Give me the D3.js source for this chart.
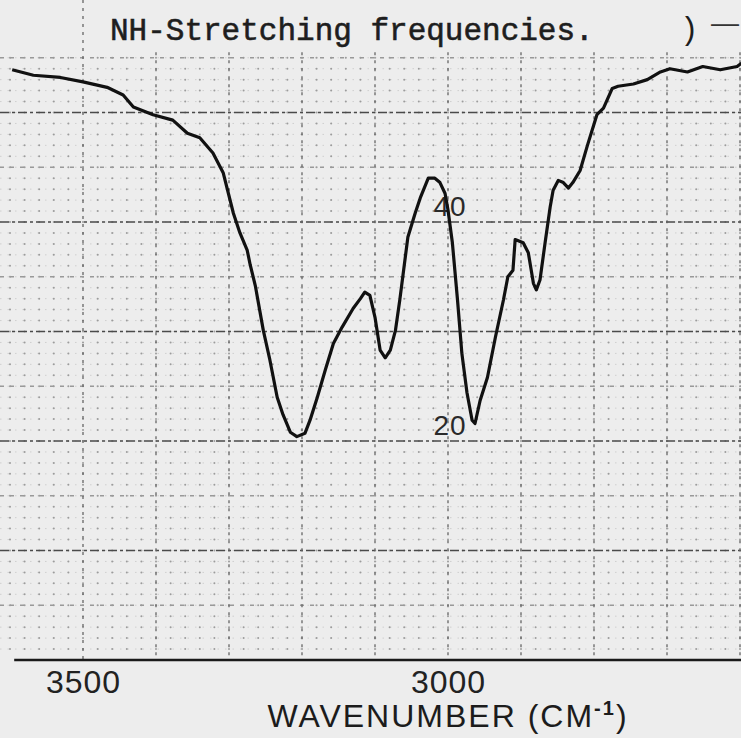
<!DOCTYPE html>
<html>
<head>
<meta charset="utf-8">
<script src="https://cdn.jsdelivr.net/npm/d3@7"></script>
<style>
    html, body { margin: 0; padding: 0; background: #ededed; }
    svg { display: block; }
</style>
</head>
<body>
<div id="chart"></div>
<script>
// Trace: wavenumber (cm-1) and transmittance (%)
const wavenumbers = [
    3597, 3568, 3531, 3500, 3467, 3445, 3431, 3404, 3377, 3357, 3340, 3322, 3308,
    3294, 3285, 3275, 3271, 3264, 3253, 3244, 3234, 3226, 3216, 3207, 3196, 3189,
    3179, 3168, 3157, 3145, 3130, 3120, 3114, 3107, 3100, 3093, 3086, 3079, 3072,
    3066, 3055, 3045, 3038, 3027, 3018, 3011, 3004, 3000, 2994, 2987, 2981, 2974,
    2967, 2963, 2956, 2946, 2935, 2924, 2918, 2911, 2908, 2897, 2890, 2883, 2879,
    2874, 2867, 2860, 2856, 2849, 2842, 2835, 2829, 2819, 2809, 2796, 2787, 2775,
    2767, 2746, 2727, 2709, 2696, 2672, 2651, 2627, 2604, 2598
];
const transmittance = [
    53.9, 53.4, 53.2, 52.8, 52.3, 51.6, 50.5, 49.8, 49.3, 48.1, 47.7, 46.3, 44.5,
    40.8, 39.0, 37.4, 36.1, 34.2, 30.1, 27.4, 24.0, 22.4, 20.8, 20.4, 20.7, 21.9,
    24.0, 26.5, 28.9, 30.4, 32.1, 33.0, 33.6, 33.3, 31.3, 28.3, 27.6, 28.3, 30.1,
    32.9, 38.6, 40.8, 42.2, 44.0, 44.0, 43.6, 42.6, 41.1, 38.1, 32.9, 28.0, 24.4,
    21.9, 21.6, 23.7, 25.8, 29.5, 32.9, 35.0, 35.6, 38.4, 38.1, 37.2, 34.4, 33.8,
    34.7, 38.1, 41.4, 42.9, 43.8, 43.6, 43.1, 43.6, 44.7, 47.0, 49.8, 50.4, 52.2,
    52.4, 52.6, 53.0, 53.7, 54.0, 53.7, 54.2, 53.9, 54.2, 54.5
];

const xTickValues = [3500, 3000];
const yLabelValues = [40, 20];
const majorWaves = [3500, 3400, 3300, 3200, 3100, 3000, 2900, 2800, 2700, 2600];
const halfPercents = [5, 15, 25, 35, 45, 55];
const tenPercents = [10, 20, 30, 40, 50];

const title = "NH-Stretching frequencies.";
const xTitle = "WAVENUMBER (CM";

const width = 741;
const height = 738;

const data = wavenumbers.map((w, i) => ({ w: w, t: transmittance[i] }));

// chart paper scale, 100 cm-1 per major division, 10 % per major row
const x = d3.scaleLinear().domain([3500, 3000]).range([83, 448]);
const y = d3.scaleLinear().domain([40, 20]).range([222, 441]);

const svg = d3.select("#chart").append("svg")
    .attr("width", width)
    .attr("height", height)
    .style("background-color", "#ededed");

const grid = svg.append("g");

// minor dotted grid: every 20 cm-1 and every 1 %
const minorWaves = d3.range(3620, 2580, -20);
const minorPercents = d3.range(1, 56, 1);
const gridTop = y(55.5);

grid.selectAll(".minor-h")
    .data(minorPercents)
    .enter().append("line")
    .attr("x1", 0).attr("x2", width)
    .attr("y1", d => y(d)).attr("y2", d => y(d))
    .attr("stroke", "#cfcfcf")
    .attr("stroke-width", 1)
    .attr("stroke-dasharray", "1.5,6");

const dots = [];
minorWaves.forEach(w => minorPercents.forEach(t => dots.push({ w: w, t: t })));
grid.selectAll(".dot")
    .data(dots)
    .enter().append("circle")
    .attr("cx", d => x(d.w))
    .attr("cy", d => y(d.t))
    .attr("r", 1)
    .attr("fill", "#9c9c9c");

// 5 % rows, lighter
grid.selectAll(".half-h")
    .data(halfPercents)
    .enter().append("line")
    .attr("x1", 0).attr("x2", width)
    .attr("y1", d => y(d)).attr("y2", d => y(d))
    .attr("stroke", "#999")
    .attr("stroke-width", 1.3)
    .attr("stroke-dasharray", "4,6");

// 10 % rows
grid.selectAll(".major-h")
    .data(tenPercents)
    .enter().append("line")
    .attr("x1", 0).attr("x2", width)
    .attr("y1", d => y(d)).attr("y2", d => y(d))
    .attr("stroke", "#4a4a4a")
    .attr("stroke-width", 1.6)
    .attr("stroke-dasharray", "9,3,3,3");

// 100 cm-1 columns
grid.selectAll(".major-v")
    .data(majorWaves)
    .enter().append("line")
    .attr("x1", d => x(d)).attr("x2", d => x(d))
    .attr("y1", d => d === 3500 ? 0 : gridTop).attr("y2", y(0))
    .attr("stroke", "#666")
    .attr("stroke-width", 1.3)
    .attr("stroke-dasharray", "3,5");

// bottom baseline
svg.append("line")
    .attr("x1", x(d3.max(wavenumbers)) + 2)
    .attr("x2", width)
    .attr("y1", y(0)).attr("y2", y(0))
    .attr("stroke", "#1a1a1a")
    .attr("stroke-width", 2.6);

// x axis labels
const xAxis = d3.axisBottom(x)
    .tickValues(xTickValues)
    .tickSize(0)
    .tickPadding(10)
    .tickFormat(d3.format("d"));

const axisG = svg.append("g")
    .attr("transform", `translate(0,${y(0)})`)
    .call(xAxis);
axisG.select(".domain").remove();
axisG.selectAll("text")
    .attr("font-family", "Liberation Sans, Arial, sans-serif")
    .attr("font-size", 32)
    .attr("letter-spacing", 1)
    .attr("fill", "#222");

const xLabel = svg.append("text")
    .attr("x", 448)
    .attr("y", 727)
    .attr("text-anchor", "middle")
    .attr("font-family", "Liberation Sans, Arial, sans-serif")
    .attr("font-size", 32)
    .attr("letter-spacing", 2)
    .attr("fill", "#1c1c1c");
xLabel.append("tspan").text(xTitle);
xLabel.append("tspan").attr("font-size", 20).attr("font-weight", "bold").attr("dy", -12).text("-1");
xLabel.append("tspan").attr("dy", 12).text(")");

// percent labels next to the 3000 column
svg.selectAll(".ylab")
    .data(yLabelValues)
    .enter().append("text")
    .attr("x", x(3000) + 2)
    .attr("y", d => y(d) - 6)
    .attr("text-anchor", "middle")
    .attr("font-family", "Liberation Sans, Arial, sans-serif")
    .attr("font-size", 28)
    .attr("letter-spacing", 1)
    .attr("fill", "#2a2a2a")
    .text(d => d);

// title, typed
svg.append("text")
    .attr("x", 110)
    .attr("y", 40)
    .attr("font-family", "Courier New, Liberation Mono, monospace")
    .attr("font-size", 31)
    .attr("fill", "#1e1e1e")
    .attr("stroke", "#1e1e1e")
    .attr("stroke-width", 0.6)
    .text(title);

svg.append("text")
    .attr("x", 680)
    .attr("y", 39)
    .attr("font-family", "Courier New, Liberation Mono, monospace")
    .attr("font-size", 31)
    .attr("fill", "#1e1e1e")
    .text(")");

svg.append("text")
    .attr("x", 711)
    .attr("y", 32)
    .attr("font-family", "Liberation Sans, Arial, sans-serif")
    .attr("font-size", 28)
    .attr("fill", "#333")
    .text("\u2014");

// the spectrum trace
const line = d3.line()
    .x(d => x(d.w))
    .y(d => y(d.t))
    .curve(d3.curveLinear);

svg.append("path")
    .datum(data)
    .attr("d", line)
    .attr("fill", "none")
    .attr("stroke", "#111")
    .attr("stroke-width", 3.2)
    .attr("stroke-linejoin", "round");
</script>
</body>
</html>
